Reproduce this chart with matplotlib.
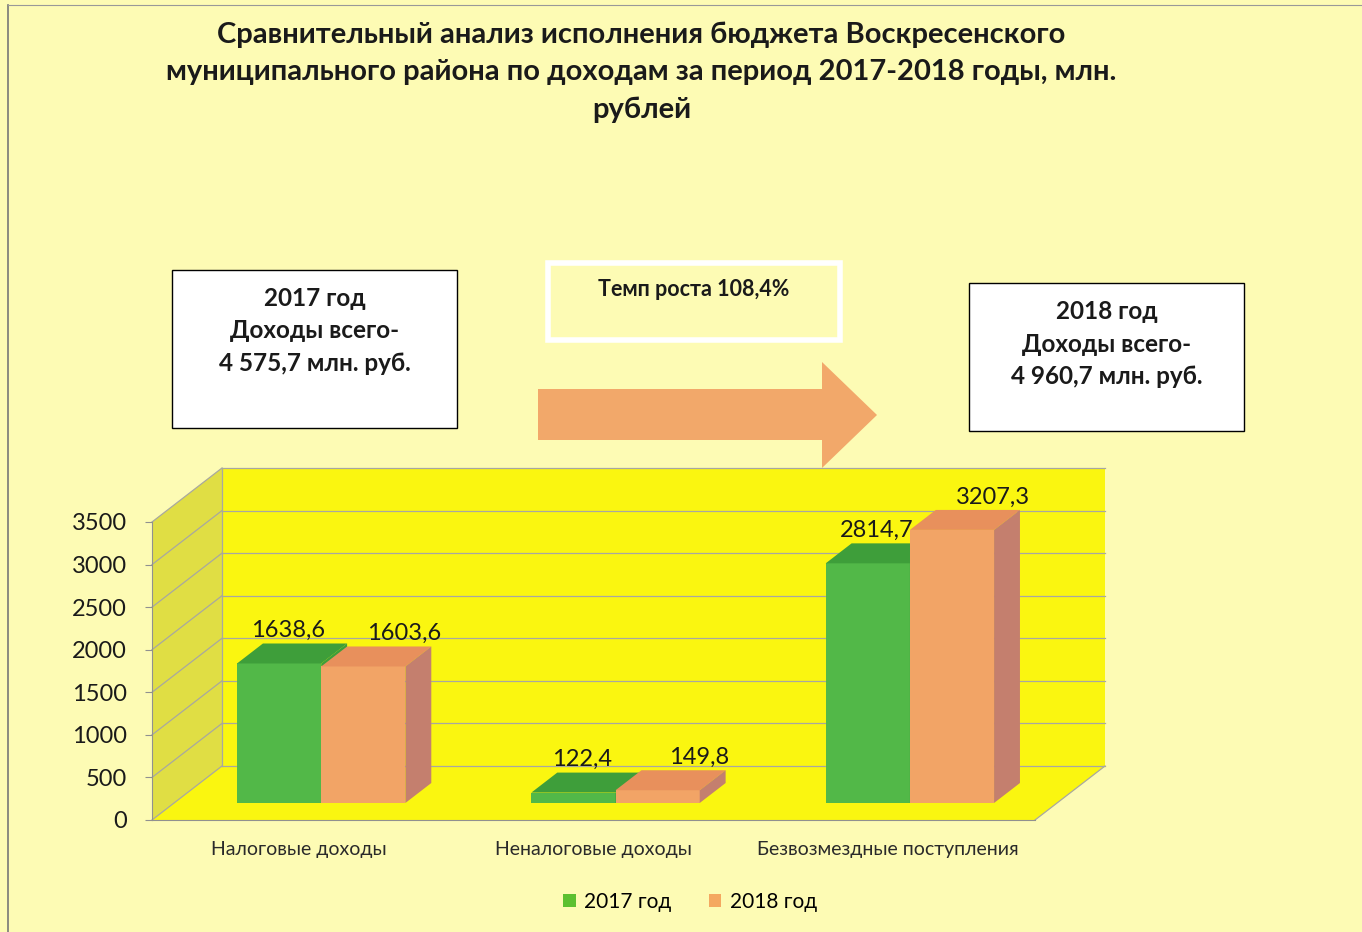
import matplotlib
matplotlib.use("Agg")
import matplotlib.pyplot as plt
from matplotlib.patches import Polygon, Rectangle, Patch
from matplotlib.lines import Line2D

plt.rcParams['font.family'] = ['Lato', 'DejaVu Sans']

categories = ['Налоговые доходы', 'Неналоговые доходы', 'Безвозмездные поступления']
series_names = ['2017 год', '2018 год']
values_2017 = [1638.6, 122.4, 2814.7]
values_2018 = [1603.6, 149.8, 3207.3]
yticks = [0, 500, 1000, 1500, 2000, 2500, 3000, 3500]
title = ('Сравнительный анализ исполнения бюджета Воскресенского\n'
         'муниципального района по доходам за период 2017-2018 годы, млн.\n'
         'рублей')
box_2017 = '2017 год\nДоходы всего-\n4 575,7 млн. руб.'
box_2018 = '2018 год\nДоходы всего-\n4 960,7 млн. руб.'
growth = 'Темп роста 108,4%'

bg = '#FDFBB4'
wall = '#FAF610'
side_wall = '#E0DE44'
green = '#52B848'
green_top = '#3E9E3A'
orange = '#F2A466'
orange_top = '#E8905C'
orange_side = '#C47F6E'
grid_c = '#A8A8A0'

W, H = 1362, 932
fig = plt.figure(figsize=(W / 100, H / 100), dpi=100, facecolor=bg)


def fx(px):
    return px / W


def fy(py):
    return 1 - py / H


# frame of the scanned page
fig.add_artist(Line2D([fx(8), fx(8)], [0, fy(5)], color='#777777', lw=1.2))
fig.add_artist(Line2D([fx(8), 1], [fy(5), fy(5)], color='#999999', lw=0.8))

fig.text(0.471, fy(22), title, ha='center', va='top', fontsize=21,
         fontweight='bold', color='#1a1a1a', linespacing=1.52)

# plot area: front plane of the 3D box
ax = fig.add_axes([fx(152), fy(820), fx(1035) - fx(152), fy(522) - fy(820)])
ax.set_xlim(-0.5, 2.5)
ax.set_ylim(0, 3500)
ax.patch.set_visible(False)

# depth of the 3D box in data units
DX = 70 / (883 / 3)
DY = 54 / (298 / 3500)
f0, f1 = 0.315, 0.685
bw = 0.286

x0, x1 = -0.5, 2.5
ax.add_patch(Polygon([(x0 + DX, DY), (x1 + DX, DY), (x1 + DX, 3500 + DY), (x0 + DX, 3500 + DY)],
                     closed=True, fc=wall, ec='none', clip_on=False, zorder=0))
ax.add_patch(Polygon([(x0, 0), (x0, 3500), (x0 + DX, 3500 + DY), (x0 + DX, DY)],
                     closed=True, fc=side_wall, ec='none', clip_on=False, zorder=0))
ax.add_patch(Polygon([(x0, 0), (x0 + DX, DY), (x1 + DX, DY), (x1, 0)],
                     closed=True, fc=wall, ec='none', clip_on=False, zorder=0))
for t in yticks:
    ax.plot([x0 + DX, x1 + DX], [t + DY, t + DY], color=grid_c, lw=0.9, clip_on=False, zorder=1)
    ax.plot([x0, x0 + DX], [t, t + DY], color=grid_c, lw=0.9, clip_on=False, zorder=1)
ax.plot([x0 + DX, x0 + DX], [DY, 3500 + DY], color=grid_c, lw=0.9, clip_on=False, zorder=1)
ax.plot([x1, x1 + DX], [0, DY], color=grid_c, lw=0.9, clip_on=False, zorder=1)


def bar3d(left, v, front, top, side):
    ox, oy = f0 * DX, f0 * DY
    dx, dy = (f1 - f0) * DX, (f1 - f0) * DY
    l, r = left + ox, left + ox + bw
    ax.add_patch(Polygon([(l, oy), (r, oy), (r, v + oy), (l, v + oy)], closed=True,
                         fc=front, ec='none', clip_on=False, zorder=3))
    ax.add_patch(Polygon([(l, v + oy), (r, v + oy), (r + dx, v + oy + dy), (l + dx, v + oy + dy)],
                         closed=True, fc=top, ec='none', clip_on=False, zorder=3))
    ax.add_patch(Polygon([(r, oy), (r + dx, oy + dy), (r + dx, v + oy + dy), (r, v + oy)],
                         closed=True, fc=side, ec='none', clip_on=False, zorder=3))


for i in range(len(categories)):
    bar3d(i - bw, values_2017[i], green, green_top, green_top)
    bar3d(i, values_2018[i], orange, orange_top, orange_side)
    ax.text(i - bw / 2 + f0 * DX + 0.03, values_2017[i] + f1 * DY + 30,
            f'{values_2017[i]:.1f}'.replace('.', ','), ha='center', va='bottom',
            fontsize=17, color='#1a1a1a', zorder=5)
    ax.text(i + bw / 2 + f0 * DX + 0.14, values_2018[i] + f1 * DY + 30,
            f'{values_2018[i]:.1f}'.replace('.', ','), ha='center', va='bottom',
            fontsize=17, color='#1a1a1a', zorder=5)

for s in ['top', 'right']:
    ax.spines[s].set_visible(False)
ax.spines['left'].set_color('#909090')
ax.spines['bottom'].set_color('#909090')
ax.set_yticks(yticks)
ax.set_yticklabels([str(t) for t in yticks], fontsize=17, color='#1a1a1a')
ax.tick_params(axis='y', length=5, color='#909090', pad=13)
ax.set_xticks(range(len(categories)))
ax.set_xticklabels(categories, fontsize=14, color='#2a2a2a')
ax.tick_params(axis='x', length=0, pad=15)

# text boxes
def box(x, y, w, h, text, size, top, ec='black', lw=1.0, fc='white'):
    fig.add_artist(Rectangle((fx(x), fy(y + h)), fx(w), h / H, fc=fc, ec=ec, lw=lw))
    return fig.text(fx(x + w / 2), fy(y + top), text, ha='center', va='top',
                    fontsize=size, fontweight='bold', color='#1a1a1a', linespacing=1.5)


box(172, 270, 285, 158, box_2017, 17.5, 17)
box(969, 283, 275, 148, box_2018, 17.5, 17)
box(548, 263, 292, 77, growth, 15.5, 16, ec='white', lw=4, fc=bg)

# block arrow
arrow_px = [(538, 389), (822, 389), (822, 362), (877, 415), (822, 468), (822, 440), (538, 440)]
fig.add_artist(Polygon([(fx(a), fy(b)) for a, b in arrow_px], closed=True,
                       fc='#F2A86A', ec='none'))

handles = [Patch(fc='#5CC030', ec='none'), Patch(fc='#F4A860', ec='none')]
fig.legend(handles, series_names, loc='center', bbox_to_anchor=(fx(690), fy(902)),
           ncol=2, frameon=False, fontsize=15, handlelength=0.6, handleheight=0.6,
           handletextpad=0.4, columnspacing=1.8)

fig.savefig('out.png', dpi=100, facecolor=bg)
